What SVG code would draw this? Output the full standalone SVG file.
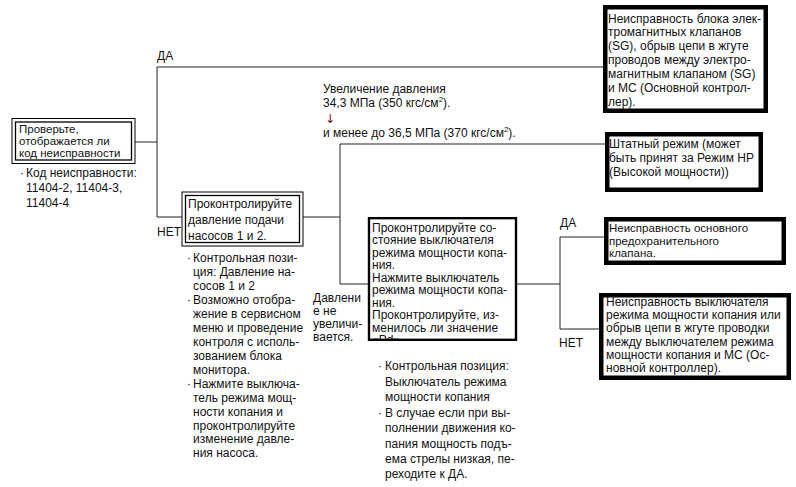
<svg xmlns="http://www.w3.org/2000/svg" width="796" height="487" viewBox="0 0 796 487">
<defs>
<style>
text{font-family:"Liberation Sans",Arial,sans-serif;font-size:12px;fill:#111}
.sm{font-size:11.5px}
.ln{stroke:#222;stroke-width:1;fill:none}
.thick{fill:#fff;stroke:#000;stroke-width:4.5}
.mid{fill:#fff;stroke:#000;stroke-width:2.2}
.dbo{fill:#fff;stroke:#000;stroke-width:1}
.dbi{fill:none;stroke:#000;stroke-width:1.3}
</style>
<clipPath id="c4"><rect x="369" y="218" width="147" height="121"/></clipPath>
</defs>
<g id="connectors">
<polyline class="ln" points="135,142 157,142"/>
<polyline class="ln" points="603,67 157,67 157,217 182,217"/>
<polyline class="ln" points="303,217 340,217"/>
<polyline class="ln" points="605,144 340,144 340,284 368,284"/>
<polyline class="ln" points="517,284 560,284"/>
<polyline class="ln" points="604,237 560,237 560,329 599,329"/>
</g>
<g id="labels">
<text x="157" y="60">ДА</text>
<text x="157" y="236">НЕТ</text>
<text x="560" y="227">ДА</text>
<text x="559" y="347">НЕТ</text>
<text x="323" y="93">Увеличение давления</text>
<text x="323" y="107">34,3 МПа (350 кгс/см<tspan font-size="8" dy="-5">2</tspan><tspan dy="5">).</tspan></text>
<text x="325" y="123" style="font-family:'DejaVu Sans',sans-serif;font-size:12px;fill:#6b1010">↓</text>
<text x="323" y="137">и менее до 36,5 МПа (370 кгс/см<tspan font-size="8" dy="-5">2</tspan><tspan dy="5">).</tspan></text>
<text x="313" y="302">Давлени</text>
<text x="313" y="315">е не</text>
<text x="313" y="328">увеличи-</text>
<text x="313" y="341">вается.</text>
</g>
<g id="n1">
<rect class="dbo" x="12" y="118.5" width="123" height="45"/>
<rect class="dbi" x="15.5" y="122" width="116" height="38"/>
<text class="sm" x="19" y="132.5">Проверьте,</text>
<text class="sm" x="19" y="144.5">отображается ли</text>
<text class="sm" x="19" y="156.5">код неисправности</text>
<text x="20" y="177">·</text>
<text x="26" y="177">Код неисправности:</text>
<text x="26" y="192">11404-2, 11404-3,</text>
<text x="26" y="207">11404-4</text>
</g>
<g id="n2">
<rect class="dbo" x="182" y="192" width="121" height="54"/>
<rect class="dbi" x="185.5" y="195.5" width="114" height="47"/>
<text x="188" y="208">Проконтролируйте</text>
<text x="188" y="224">давление подачи</text>
<text x="188" y="240">насосов 1 и 2.</text>
<g>
<text x="187" y="262">·</text><text x="193" y="262">Контрольная пози-</text>
<text x="193" y="276">ция: Давление на-</text>
<text x="193" y="290">сосов 1 и 2</text>
<text x="187" y="304">·</text><text x="193" y="304">Возможно отобра-</text>
<text x="193" y="318">жение в сервисном</text>
<text x="193" y="332">меню и проведение</text>
<text x="193" y="345.5">контроля с исполь-</text>
<text x="193" y="359.5">зованием блока</text>
<text x="193" y="373.5">монитора.</text>
<text x="187" y="387.5">·</text><text x="193" y="387.5">Нажмите выключа-</text>
<text x="193" y="401.5">тель режима мощ-</text>
<text x="193" y="415.5">ности копания и</text>
<text x="193" y="429.5">проконтролируйте</text>
<text x="193" y="443">изменение давле-</text>
<text x="193" y="457">ния насоса.</text>
</g>
</g>
<g id="n3">
<rect class="thick" x="605.25" y="7.25" width="160.5" height="103.5"/>
<text x="608" y="22.5">Неисправность блока элек-</text>
<text x="608" y="36.4">тромагнитных клапанов</text>
<text x="608" y="50.3">(SG), обрыв цепи в жгуте</text>
<text x="608" y="64.2">проводов между электро-</text>
<text x="608" y="78.1">магнитным клапаном (SG)</text>
<text x="608" y="92">и МС (Основной контрол-</text>
<text x="608" y="105.9">лер).</text>
</g>
<g id="n4">
<rect class="mid" x="369" y="218.1" width="147" height="121.8"/>
<g clip-path="url(#c4)">
<text x="372" y="231.5">Проконтролируйте со-</text>
<text x="372" y="244">стояние выключателя</text>
<text x="372" y="256.5">режима мощности копа-</text>
<text x="372" y="269">ния.</text>
<text x="372" y="281.5">Нажмите выключатель</text>
<text x="372" y="294">режима мощности копа-</text>
<text x="372" y="306.5">ния.</text>
<text x="372" y="319">Проконтролируйте, из-</text>
<text x="372" y="331.5">менилось ли значение</text>
<text x="372" y="344">«Pd».</text>
</g>
<rect x="369" y="218.1" width="147" height="121.8" fill="none" stroke="#000" stroke-width="2.2"/>
<text x="378" y="370">·</text><text x="385" y="370">Контрольная позиция:</text>
<text x="385" y="385.5">Выключатель режима</text>
<text x="385" y="401">мощности копания</text>
<text x="378" y="416.5">·</text><text x="385" y="416.5">В случае если при вы-</text>
<text x="385" y="432">полнении движения ко-</text>
<text x="385" y="447.5">пания мощность подъ-</text>
<text x="385" y="463">ема стрелы низкая, пе-</text>
<text x="385" y="478">реходите к ДА.</text>
</g>
<g id="n5">
<rect class="thick" x="607.25" y="134.25" width="153.5" height="55.5"/>
<text x="609" y="147.5">Штатный режим (может</text>
<text x="609" y="161.5">быть принят за Режим НР</text>
<text x="609" y="175.5">(Высокой мощности))</text>
</g>
<g id="n6">
<rect class="thick" x="606.25" y="219.25" width="177.5" height="43.5"/>
<text class="sm" x="609" y="232">Неисправность основного</text>
<text class="sm" x="609" y="244.5">предохранительного</text>
<text class="sm" x="609" y="257">клапана.</text>
</g>
<g id="n7">
<rect class="thick" x="601.25" y="295.25" width="187.5" height="82.5"/>
<text x="606" y="306">Неисправность выключателя</text>
<text x="606" y="319.2">режима мощности копания или</text>
<text x="606" y="332.4">обрыв цепи в жгуте проводки</text>
<text x="606" y="345.6">между выключателем режима</text>
<text x="606" y="358.8">мощности копания и МС (Ос-</text>
<text x="606" y="372">новной контроллер).</text>
</g>
</svg>
